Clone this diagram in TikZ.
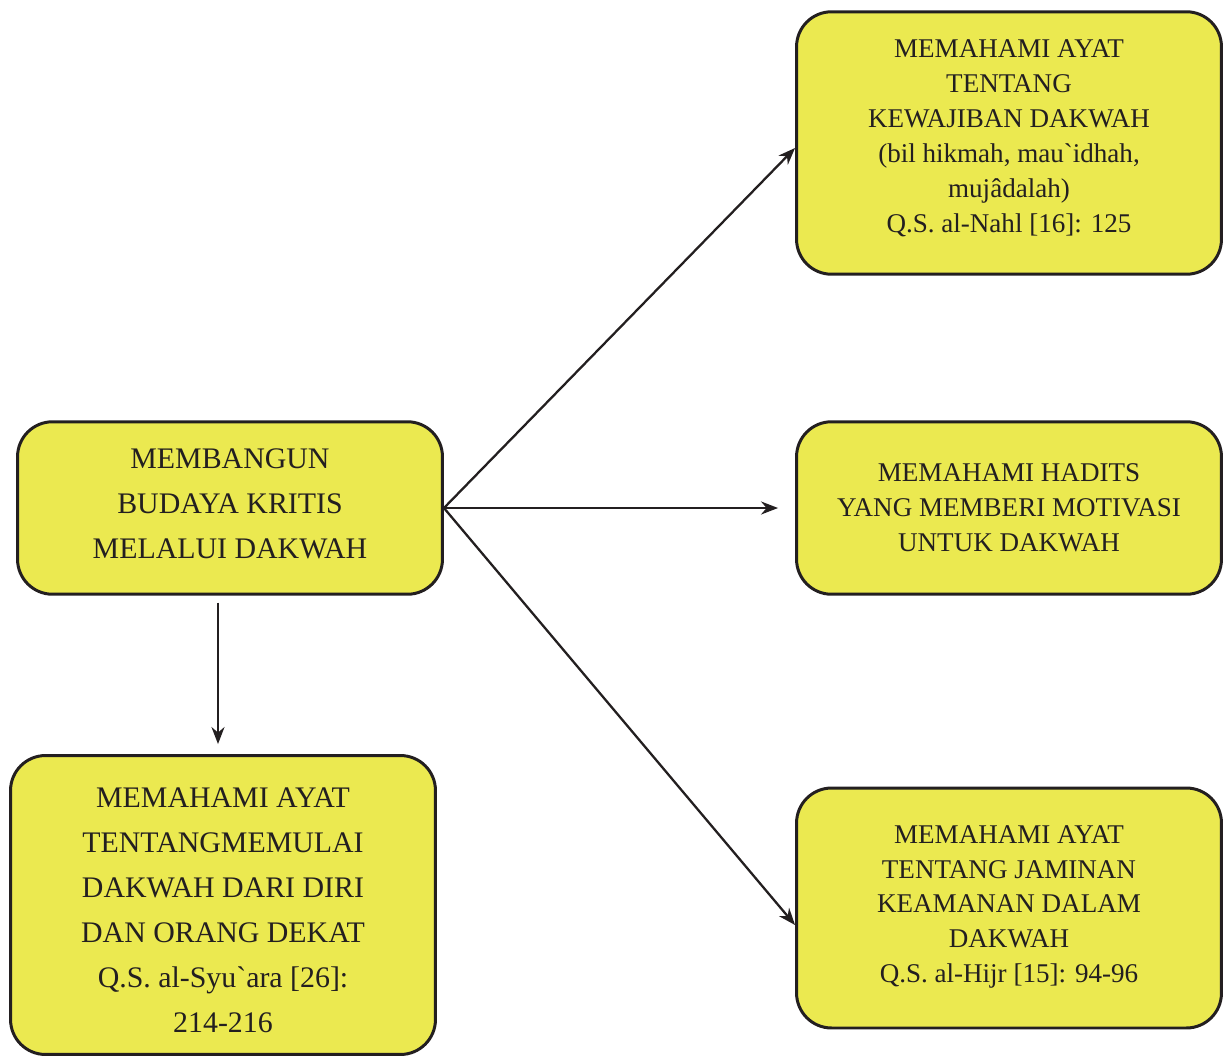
\documentclass[tikz,border=0pt]{standalone}
\usepackage{fontspec}
\setmainfont{Liberation Serif}[Ligatures=TeXOff]
\usetikzlibrary{arrows.meta}
\definecolor{boxyellow}{RGB}{235,233,80}
\definecolor{inkgray}{RGB}{35,31,32}

\begin{document}
\begin{tikzpicture}[x=0.02cm, y=-0.02cm,
        box/.style={draw=inkgray, line width=1.7pt, fill=boxyellow, rounded corners=0.7cm,
            text=inkgray, align=center, minimum width=8.5cm, inner sep=0pt},
        bigtext/.style={font=\fontsize{17}{25.6}\selectfont},
        smalltext/.style={font=\fontsize{15.4}{19.9}\selectfont},
        arr/.style={-{Stealth[length=0.34cm, width=0.26cm]}, draw=inkgray, line width=1.3pt}]
        \useasboundingbox (0,0) rectangle (1226,1058);

        \node[box, bigtext, minimum height=3.45cm] (main) at (230,508)
            {MEMBANGUN\\ BUDAYA KRITIS\\ MELALUI DAKWAH\rule[-4.5pt]{0pt}{0pt}};
        \node[box, smalltext, minimum height=5.25cm] (nahl) at (1009,143)
            {MEMAHAMI AYAT\\ TENTANG\\ KEWAJIBAN DAKWAH\\ (bil hikmah, mau`idhah,\\ mujâdalah)\\ Q.S. al-Nahl [16]: 125\rule[-8pt]{0pt}{0pt}};
        \node[box, smalltext, minimum height=3.45cm] (hadits) at (1009,508)
            {MEMAHAMI HADITS\\ YANG MEMBERI MOTIVASI\\ UNTUK DAKWAH};
        \node[box, smalltext, minimum height=4.8cm] (hijr) at (1009,908)
            {MEMAHAMI AYAT\\ TENTANG JAMINAN\\ KEAMANAN DALAM\\ DAKWAH\\ Q.S. al-Hijr [15]: 94-96\rule[-4.5pt]{0pt}{0pt}};
        \node[box, bigtext, minimum height=5.98cm] (syuara) at (223,905)
            {\rule{0pt}{17pt}MEMAHAMI AYAT\\ TENTANGMEMULAI\\ DAKWAH DARI DIRI\\ DAN ORANG DEKAT\\ Q.S. al-Syu`ara [26]:\\ 214-216};

        \draw[arr] (main.east) -- ([yshift=-0.1cm]nahl.west);
        \draw[arr, shorten >=0.34cm] (main.east) -- (hadits.west);
        \draw[arr] (main.east) -- ([yshift=-0.34cm]hijr.west);
        \draw[arr, shorten <=0.14cm, shorten >=0.2cm] ([xshift=-0.24cm]main.south)
            -- ([xshift=-0.24cm]main.south |- syuara.north);
    \end{tikzpicture}
\end{document}
